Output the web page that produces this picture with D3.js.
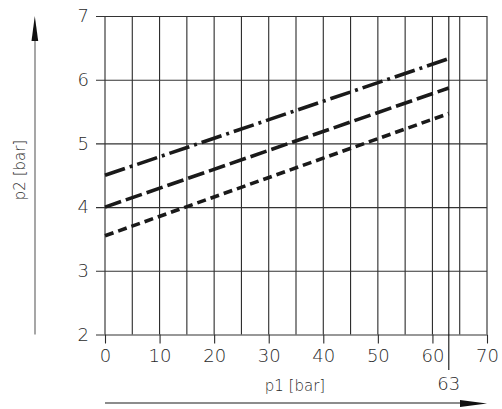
<!DOCTYPE html>
<html>
<head>
<meta charset="utf-8">
<script src="https://cdn.jsdelivr.net/npm/d3@7"></script>
<style>
  body { margin: 0; background: #fff; }
  svg text { font-family: "DejaVu Sans", sans-serif; font-weight: 200; fill: #2a2a2a; }
</style>
</head>
<body>
<div id="chart"></div>
<script>
// data
const p1 = [0, 63];
const upperLine = [4.5, 6.33];   // dash-dot
const middleLine = [4.0, 5.87];  // long dash
const lowerLine = [3.55, 5.47];  // short dash
const xTicks = [0, 10, 20, 30, 40, 50, 60, 70];
const xGrid = d3.range(0, 71, 5);
const yTicks = [2, 3, 4, 5, 6, 7];
const markP1 = 63;

const width = 502, height = 409;

const svg = d3.select("#chart").append("svg")
    .attr("width", width)
    .attr("height", height);

const x = d3.scaleLinear().domain([0, 70]).range([105, 487]);
const y = d3.scaleLinear().domain([2, 7]).range([334.5, 16]);

// vertical grid every 5
svg.append("g").selectAll("line")
    .data(xGrid)
    .enter().append("line")
    .attr("x1", d => x(d)).attr("x2", d => x(d))
    .attr("y1", y(7)).attr("y2", y(2))
    .attr("stroke", "#2a2a2a")
    .attr("stroke-width", 1.1);

// horizontal grid + y labels
const yAxis = svg.append("g")
    .attr("transform", "translate(96,0)")
    .call(d3.axisLeft(y).tickValues(yTicks).tickSize(-(x(70) - 96)).tickPadding(7).tickFormat(d3.format("d")));
yAxis.select(".domain").remove();
yAxis.selectAll(".tick line").attr("stroke", "#333").attr("stroke-width", 1.1);
yAxis.selectAll(".tick text").attr("font-size", 18).attr("fill", "#2a2a2a");

// x ticks + labels
const xAxis = svg.append("g")
    .attr("transform", `translate(0,${y(2)})`)
    .call(d3.axisBottom(x).tickValues(xTicks).tickSize(9).tickPadding(6).tickFormat(d3.format("d")));
xAxis.select(".domain").remove();
xAxis.selectAll(".tick line").attr("stroke", "#2a2a2a").attr("stroke-width", 1.1);
xAxis.selectAll(".tick text").attr("font-size", 18).attr("fill", "#2a2a2a");

// 63 marker line
svg.append("line")
    .attr("x1", x(markP1)).attr("x2", x(markP1))
    .attr("y1", y(7)).attr("y2", 370)
    .attr("stroke", "#111")
    .attr("stroke-width", 1.1);
svg.append("text")
    .attr("x", x(markP1))
    .attr("y", 390)
    .attr("text-anchor", "middle")
    .attr("font-size", 18)
    .text(markP1);

// data lines
const series = [
    { values: upperLine, dash: "21,5,3,5" },
    { values: middleLine, dash: "17,5" },
    { values: lowerLine, dash: "9,5" }
];
const line = d3.line().x(d => x(d[0])).y(d => y(d[1]));
svg.append("g").selectAll("path")
    .data(series)
    .enter().append("path")
    .attr("d", s => line(p1.map((v, i) => [v, s.values[i]])))
    .attr("fill", "none")
    .attr("stroke", "#1a1a1a")
    .attr("stroke-width", 3.6)
    .attr("stroke-dasharray", s => s.dash);

// axis titles
svg.append("text")
    .attr("x", 295)
    .attr("y", 391)
    .attr("text-anchor", "middle")
    .attr("font-size", 15)
    .text("p1 [bar]");

svg.append("text")
    .attr("transform", "translate(25,170) rotate(-90)")
    .attr("text-anchor", "middle")
    .attr("font-size", 15)
    .text("p2 [bar]");

// arrows
svg.append("line")
    .attr("x1", x(0)).attr("x2", 462)
    .attr("y1", 403).attr("y2", 403)
    .attr("stroke", "#666").attr("stroke-width", 1.3);
svg.append("path")
    .attr("d", "M460,400 L487,403.5 L460,407 Z")
    .attr("fill", "#111");

svg.append("line")
    .attr("x1", 35).attr("x2", 35)
    .attr("y1", y(2)).attr("y2", 40)
    .attr("stroke", "#777").attr("stroke-width", 1.3);
svg.append("path")
    .attr("d", "M31.5,41 L34.8,16 L38.2,41 Z")
    .attr("fill", "#111");
</script>
</body>
</html>
